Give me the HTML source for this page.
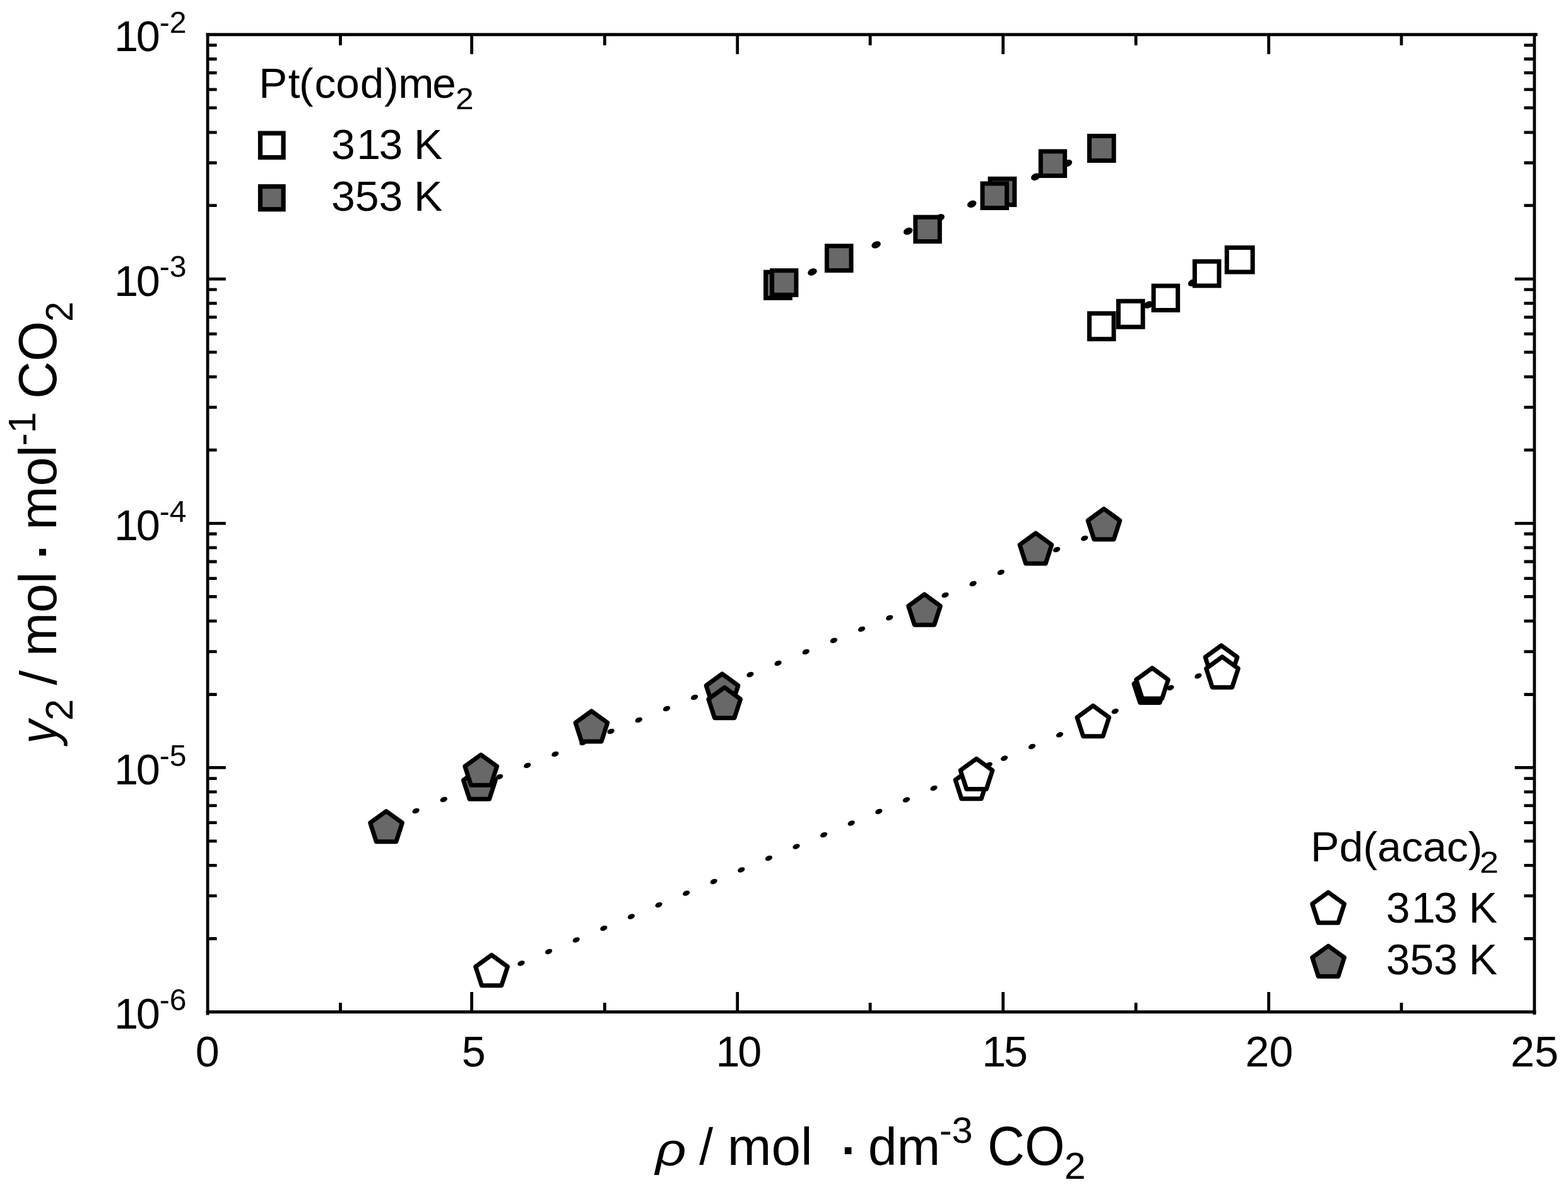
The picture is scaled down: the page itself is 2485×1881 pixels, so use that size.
<!DOCTYPE html>
<html lang="en"><head><meta charset="utf-8"><title>Solubility plot</title>
<style>html,body{margin:0;padding:0;background:#fff;overflow:hidden}svg{display:block}</style></head>
<body>
<svg width="2485" height="1881" viewBox="0 0 2485 1881">
<rect width="2485" height="1881" fill="#fff"/>
<g fill="#000">
<ellipse cx="1236.90" cy="452.52" rx="7.6" ry="5.3" transform="rotate(-23.08 1236.90 452.52)"/>
<ellipse cx="1287.45" cy="430.98" rx="7.6" ry="5.3" transform="rotate(-23.08 1287.45 430.98)"/>
<ellipse cx="1338.00" cy="409.43" rx="7.6" ry="5.3" transform="rotate(-23.08 1338.00 409.43)"/>
<ellipse cx="1388.55" cy="387.89" rx="7.6" ry="5.3" transform="rotate(-23.08 1388.55 387.89)"/>
<ellipse cx="1439.10" cy="366.35" rx="7.6" ry="5.3" transform="rotate(-23.08 1439.10 366.35)"/>
<ellipse cx="1489.65" cy="344.80" rx="7.6" ry="5.3" transform="rotate(-23.08 1489.65 344.80)"/>
<ellipse cx="1540.20" cy="323.26" rx="7.6" ry="5.3" transform="rotate(-23.08 1540.20 323.26)"/>
<ellipse cx="1590.75" cy="301.71" rx="7.6" ry="5.3" transform="rotate(-23.08 1590.75 301.71)"/>
<ellipse cx="1641.30" cy="280.17" rx="7.6" ry="5.3" transform="rotate(-23.08 1641.30 280.17)"/>
<ellipse cx="1691.85" cy="258.62" rx="7.6" ry="5.3" transform="rotate(-23.08 1691.85 258.62)"/>
<ellipse cx="1742.40" cy="237.08" rx="7.6" ry="5.3" transform="rotate(-23.08 1742.40 237.08)"/>
<ellipse cx="1820.00" cy="483.00" rx="7.6" ry="5.3" transform="rotate(-26.57 1820.00 483.00)"/>
<ellipse cx="1890.00" cy="448.00" rx="7.6" ry="5.3" transform="rotate(-26.57 1890.00 448.00)"/>
<ellipse cx="659.10" cy="1284.90" rx="5.9" ry="3.9" transform="rotate(-22.18 659.10 1284.90)"/>
<ellipse cx="703.25" cy="1266.90" rx="5.9" ry="3.9" transform="rotate(-22.18 703.25 1266.90)"/>
<ellipse cx="747.40" cy="1248.90" rx="5.9" ry="3.9" transform="rotate(-22.18 747.40 1248.90)"/>
<ellipse cx="791.55" cy="1230.90" rx="5.9" ry="3.9" transform="rotate(-22.18 791.55 1230.90)"/>
<ellipse cx="835.70" cy="1212.90" rx="5.9" ry="3.9" transform="rotate(-22.18 835.70 1212.90)"/>
<ellipse cx="879.85" cy="1194.90" rx="5.9" ry="3.9" transform="rotate(-22.18 879.85 1194.90)"/>
<ellipse cx="924.00" cy="1176.90" rx="5.9" ry="3.9" transform="rotate(-22.18 924.00 1176.90)"/>
<ellipse cx="968.15" cy="1158.90" rx="5.9" ry="3.9" transform="rotate(-22.18 968.15 1158.90)"/>
<ellipse cx="1012.30" cy="1140.90" rx="5.9" ry="3.9" transform="rotate(-22.18 1012.30 1140.90)"/>
<ellipse cx="1056.45" cy="1122.90" rx="5.9" ry="3.9" transform="rotate(-22.18 1056.45 1122.90)"/>
<ellipse cx="1100.60" cy="1104.90" rx="5.9" ry="3.9" transform="rotate(-22.18 1100.60 1104.90)"/>
<ellipse cx="1144.75" cy="1086.90" rx="5.9" ry="3.9" transform="rotate(-22.18 1144.75 1086.90)"/>
<ellipse cx="1188.90" cy="1068.90" rx="5.9" ry="3.9" transform="rotate(-22.18 1188.90 1068.90)"/>
<ellipse cx="1233.05" cy="1050.90" rx="5.9" ry="3.9" transform="rotate(-22.18 1233.05 1050.90)"/>
<ellipse cx="1277.20" cy="1032.90" rx="5.9" ry="3.9" transform="rotate(-22.18 1277.20 1032.90)"/>
<ellipse cx="1321.35" cy="1014.90" rx="5.9" ry="3.9" transform="rotate(-22.18 1321.35 1014.90)"/>
<ellipse cx="1365.50" cy="996.90" rx="5.9" ry="3.9" transform="rotate(-22.18 1365.50 996.90)"/>
<ellipse cx="1409.65" cy="978.90" rx="5.9" ry="3.9" transform="rotate(-22.18 1409.65 978.90)"/>
<ellipse cx="1453.80" cy="960.90" rx="5.9" ry="3.9" transform="rotate(-22.18 1453.80 960.90)"/>
<ellipse cx="1497.95" cy="942.90" rx="5.9" ry="3.9" transform="rotate(-22.18 1497.95 942.90)"/>
<ellipse cx="1542.10" cy="924.90" rx="5.9" ry="3.9" transform="rotate(-22.18 1542.10 924.90)"/>
<ellipse cx="1586.25" cy="906.90" rx="5.9" ry="3.9" transform="rotate(-22.18 1586.25 906.90)"/>
<ellipse cx="1630.40" cy="888.90" rx="5.9" ry="3.9" transform="rotate(-22.18 1630.40 888.90)"/>
<ellipse cx="1674.55" cy="870.90" rx="5.9" ry="3.9" transform="rotate(-22.18 1674.55 870.90)"/>
<ellipse cx="1718.70" cy="852.90" rx="5.9" ry="3.9" transform="rotate(-22.18 1718.70 852.90)"/>
<ellipse cx="826.00" cy="1526.40" rx="5.9" ry="3.9" transform="rotate(-22.99 826.00 1526.40)"/>
<ellipse cx="869.60" cy="1507.90" rx="5.9" ry="3.9" transform="rotate(-22.99 869.60 1507.90)"/>
<ellipse cx="913.20" cy="1489.40" rx="5.9" ry="3.9" transform="rotate(-22.99 913.20 1489.40)"/>
<ellipse cx="956.80" cy="1470.90" rx="5.9" ry="3.9" transform="rotate(-22.99 956.80 1470.90)"/>
<ellipse cx="1000.40" cy="1452.40" rx="5.9" ry="3.9" transform="rotate(-22.99 1000.40 1452.40)"/>
<ellipse cx="1044.00" cy="1433.90" rx="5.9" ry="3.9" transform="rotate(-22.99 1044.00 1433.90)"/>
<ellipse cx="1087.60" cy="1415.40" rx="5.9" ry="3.9" transform="rotate(-22.99 1087.60 1415.40)"/>
<ellipse cx="1131.20" cy="1396.90" rx="5.9" ry="3.9" transform="rotate(-22.99 1131.20 1396.90)"/>
<ellipse cx="1174.80" cy="1378.40" rx="5.9" ry="3.9" transform="rotate(-22.99 1174.80 1378.40)"/>
<ellipse cx="1218.40" cy="1359.90" rx="5.9" ry="3.9" transform="rotate(-22.99 1218.40 1359.90)"/>
<ellipse cx="1262.00" cy="1341.41" rx="5.9" ry="3.9" transform="rotate(-22.99 1262.00 1341.41)"/>
<ellipse cx="1305.60" cy="1322.91" rx="5.9" ry="3.9" transform="rotate(-22.99 1305.60 1322.91)"/>
<ellipse cx="1349.20" cy="1304.41" rx="5.9" ry="3.9" transform="rotate(-22.99 1349.20 1304.41)"/>
<ellipse cx="1392.80" cy="1285.91" rx="5.9" ry="3.9" transform="rotate(-22.99 1392.80 1285.91)"/>
<ellipse cx="1436.40" cy="1267.41" rx="5.9" ry="3.9" transform="rotate(-22.99 1436.40 1267.41)"/>
<ellipse cx="1480.00" cy="1248.91" rx="5.9" ry="3.9" transform="rotate(-22.99 1480.00 1248.91)"/>
<ellipse cx="1523.60" cy="1230.41" rx="5.9" ry="3.9" transform="rotate(-22.99 1523.60 1230.41)"/>
<ellipse cx="1567.20" cy="1211.91" rx="5.9" ry="3.9" transform="rotate(-22.99 1567.20 1211.91)"/>
<ellipse cx="1591.60" cy="1201.56" rx="5.9" ry="3.9" transform="rotate(-22.99 1591.60 1201.56)"/>
<ellipse cx="1635.50" cy="1182.93" rx="5.9" ry="3.9" transform="rotate(-22.99 1635.50 1182.93)"/>
<ellipse cx="1679.40" cy="1164.30" rx="5.9" ry="3.9" transform="rotate(-22.99 1679.40 1164.30)"/>
<ellipse cx="1723.30" cy="1145.68" rx="5.9" ry="3.9" transform="rotate(-22.99 1723.30 1145.68)"/>
<ellipse cx="1767.20" cy="1127.05" rx="5.9" ry="3.9" transform="rotate(-22.99 1767.20 1127.05)"/>
<ellipse cx="1811.10" cy="1108.42" rx="5.9" ry="3.9" transform="rotate(-22.99 1811.10 1108.42)"/>
<ellipse cx="1855.00" cy="1089.80" rx="5.9" ry="3.9" transform="rotate(-22.99 1855.00 1089.80)"/>
<ellipse cx="1898.90" cy="1071.17" rx="5.9" ry="3.9" transform="rotate(-22.99 1898.90 1071.17)"/>
</g>
<rect x="1213.50" y="431.20" width="38.80" height="41.00" fill="#686868" stroke="#000" stroke-width="7.0"/>
<rect x="1223.60" y="428.70" width="38.30" height="38.60" fill="#686868" stroke="#000" stroke-width="7.0"/>
<rect x="1310.40" y="389.80" width="38.60" height="38.80" fill="#686868" stroke="#000" stroke-width="7.0"/>
<rect x="1450.80" y="344.10" width="38.50" height="38.50" fill="#686868" stroke="#000" stroke-width="7.0"/>
<rect x="1569.10" y="283.30" width="38.80" height="41.30" fill="#686868" stroke="#000" stroke-width="7.0"/>
<rect x="1557.00" y="290.90" width="38.60" height="38.60" fill="#686868" stroke="#000" stroke-width="7.0"/>
<rect x="1649.30" y="239.90" width="38.30" height="38.60" fill="#686868" stroke="#000" stroke-width="7.0"/>
<rect x="1726.50" y="215.50" width="38.70" height="39.00" fill="#686868" stroke="#000" stroke-width="7.0"/>
<rect x="1726.50" y="496.70" width="38.60" height="40.60" fill="#fff" stroke="#000" stroke-width="7.0"/>
<rect x="1772.50" y="477.20" width="38.70" height="40.90" fill="#fff" stroke="#000" stroke-width="7.0"/>
<rect x="1828.20" y="453.00" width="38.50" height="38.50" fill="#fff" stroke="#000" stroke-width="7.0"/>
<rect x="1893.40" y="414.30" width="38.60" height="38.50" fill="#fff" stroke="#000" stroke-width="7.0"/>
<rect x="1944.30" y="392.40" width="40.90" height="38.60" fill="#fff" stroke="#000" stroke-width="7.0"/>
<polygon points="612.10,1285.50 637.49,1303.95 627.79,1333.80 596.41,1333.80 586.71,1303.95" fill="#686868" stroke="#000" stroke-width="7.0" stroke-linejoin="round"/>
<polygon points="759.80,1218.00 785.19,1236.45 775.49,1266.30 744.11,1266.30 734.41,1236.45" fill="#686868" stroke="#000" stroke-width="7.0" stroke-linejoin="round"/>
<polygon points="762.20,1196.00 787.59,1214.45 777.89,1244.30 746.51,1244.30 736.81,1214.45" fill="#686868" stroke="#000" stroke-width="7.0" stroke-linejoin="round"/>
<polygon points="937.40,1126.80 962.79,1145.25 953.09,1175.10 921.71,1175.10 912.01,1145.25" fill="#686868" stroke="#000" stroke-width="7.0" stroke-linejoin="round"/>
<polygon points="1144.50,1067.90 1169.89,1086.35 1160.19,1116.20 1128.81,1116.20 1119.11,1086.35" fill="#686868" stroke="#000" stroke-width="7.0" stroke-linejoin="round"/>
<polygon points="1148.20,1089.40 1173.59,1107.85 1163.89,1137.70 1132.51,1137.70 1122.81,1107.85" fill="#686868" stroke="#000" stroke-width="7.0" stroke-linejoin="round"/>
<polygon points="1465.00,941.90 1490.39,960.35 1480.69,990.20 1449.31,990.20 1439.61,960.35" fill="#686868" stroke="#000" stroke-width="7.0" stroke-linejoin="round"/>
<polygon points="1641.40,844.80 1666.79,863.25 1657.09,893.10 1625.71,893.10 1616.01,863.25" fill="#686868" stroke="#000" stroke-width="7.0" stroke-linejoin="round"/>
<polygon points="1749.50,806.40 1774.89,824.85 1765.19,854.70 1733.81,854.70 1724.11,824.85" fill="#686868" stroke="#000" stroke-width="7.0" stroke-linejoin="round"/>
<polygon points="779.10,1513.40 804.49,1531.85 794.79,1561.70 763.41,1561.70 753.71,1531.85" fill="#fff" stroke="#000" stroke-width="7.0" stroke-linejoin="round"/>
<polygon points="1539.50,1217.50 1564.89,1235.95 1555.19,1265.80 1523.81,1265.80 1514.11,1235.95" fill="#fff" stroke="#000" stroke-width="7.0" stroke-linejoin="round"/>
<polygon points="1547.50,1202.30 1572.89,1220.75 1563.19,1250.60 1531.81,1250.60 1522.11,1220.75" fill="#fff" stroke="#000" stroke-width="7.0" stroke-linejoin="round"/>
<polygon points="1732.30,1118.40 1757.69,1136.85 1747.99,1166.70 1716.61,1166.70 1706.91,1136.85" fill="#fff" stroke="#000" stroke-width="7.0" stroke-linejoin="round"/>
<polygon points="1822.40,1065.20 1847.79,1083.65 1838.09,1113.50 1806.71,1113.50 1797.01,1083.65" fill="#fff" stroke="#000" stroke-width="7.0" stroke-linejoin="round"/>
<polygon points="1826.00,1058.60 1851.39,1077.05 1841.69,1106.90 1810.31,1106.90 1800.61,1077.05" fill="#fff" stroke="#000" stroke-width="7.0" stroke-linejoin="round"/>
<polygon points="1935.50,1022.90 1960.89,1041.35 1951.19,1071.20 1919.81,1071.20 1910.11,1041.35" fill="#fff" stroke="#000" stroke-width="7.0" stroke-linejoin="round"/>
<polygon points="1937.00,1040.90 1962.39,1059.35 1952.69,1089.20 1921.31,1089.20 1911.61,1059.35" fill="#fff" stroke="#000" stroke-width="7.0" stroke-linejoin="round"/>
<g stroke="#000" stroke-width="4.8" fill="none">
<path d="M539.5 55.0V71.8 M539.5 1603.6V1589.1"/>
<path d="M747.6 55.0V85.8 M747.6 1603.6V1572.1"/>
<path d="M958.3 55.0V71.8 M958.3 1603.6V1589.1"/>
<path d="M1168.7 55.0V85.8 M1168.7 1603.6V1572.1"/>
<path d="M1379.1 55.0V71.8 M1379.1 1603.6V1589.1"/>
<path d="M1589.7 55.0V85.8 M1589.7 1603.6V1572.1"/>
<path d="M1800.2 55.0V71.8 M1800.2 1603.6V1589.1"/>
<path d="M2010.7 55.0V85.8 M2010.7 1603.6V1572.1"/>
<path d="M2221.0 55.0V71.8 M2221.0 1603.6V1589.1"/>
<path d="M329.1 71.60H343.6 M2432.0 71.60H2415.4"/>
<path d="M329.1 93.50H343.6 M2432.0 93.50H2415.4"/>
<path d="M329.1 115.30H343.6 M2432.0 115.30H2415.4"/>
<path d="M329.1 141.90H343.6 M2432.0 141.90H2415.4"/>
<path d="M329.1 170.90H343.6 M2432.0 170.90H2415.4"/>
<path d="M329.1 209.80H343.6 M2432.0 209.80H2415.4"/>
<path d="M329.1 258.00H343.6 M2432.0 258.00H2415.4"/>
<path d="M329.1 325.60H343.6 M2432.0 325.60H2415.4"/>
<path d="M329.1 458.90H343.6 M2432.0 458.90H2415.4"/>
<path d="M329.1 480.70H343.6 M2432.0 480.70H2415.4"/>
<path d="M329.1 502.70H343.6 M2432.0 502.70H2415.4"/>
<path d="M329.1 529.20H343.6 M2432.0 529.20H2415.4"/>
<path d="M329.1 558.20H343.6 M2432.0 558.20H2415.4"/>
<path d="M329.1 597.10H343.6 M2432.0 597.10H2415.4"/>
<path d="M329.1 645.40H343.6 M2432.0 645.40H2415.4"/>
<path d="M329.1 713.20H343.6 M2432.0 713.20H2415.4"/>
<path d="M329.1 846.00H343.6 M2432.0 846.00H2415.4"/>
<path d="M329.1 867.90H343.6 M2432.0 867.90H2415.4"/>
<path d="M329.1 890.00H343.6 M2432.0 890.00H2415.4"/>
<path d="M329.1 916.60H343.6 M2432.0 916.60H2415.4"/>
<path d="M329.1 945.50H343.6 M2432.0 945.50H2415.4"/>
<path d="M329.1 984.20H343.6 M2432.0 984.20H2415.4"/>
<path d="M329.1 1032.70H343.6 M2432.0 1032.70H2415.4"/>
<path d="M329.1 1100.50H343.6 M2432.0 1100.50H2415.4"/>
<path d="M329.1 1233.60H343.6 M2432.0 1233.60H2415.4"/>
<path d="M329.1 1254.80H343.6 M2432.0 1254.80H2415.4"/>
<path d="M329.1 1276.60H343.6 M2432.0 1276.60H2415.4"/>
<path d="M329.1 1303.60H343.6 M2432.0 1303.60H2415.4"/>
<path d="M329.1 1332.90H343.6 M2432.0 1332.90H2415.4"/>
<path d="M329.1 1371.40H343.6 M2432.0 1371.40H2415.4"/>
<path d="M329.1 1419.70H343.6 M2432.0 1419.70H2415.4"/>
<path d="M329.1 1487.50H343.6 M2432.0 1487.50H2415.4"/>
<path d="M329.1 442.20H357.8 M2432.0 442.20H2400.7"/>
<path d="M329.1 829.40H357.8 M2432.0 829.40H2400.7"/>
<path d="M329.1 1216.40H357.8 M2432.0 1216.40H2400.7"/>
</g>
<g fill="#000">
<rect x="326.7" y="52.5" width="4.8" height="1556.0"/>
<rect x="2429.4" y="52.5" width="4.8" height="1555.4"/>
<rect x="326.7" y="52.3" width="2110.0" height="5.0"/>
<rect x="326.7" y="1601.1" width="2107.7" height="5.0"/>
</g>
<g font-family="'Liberation Sans', Arial, Helvetica, sans-serif" font-size="100" fill="#000">
<text transform="matrix(0.6848 0 0 0.6940 177.77 81.41)" xml:space="preserve"><tspan dx="4.6">1</tspan><tspan dx="-4.6">0</tspan></text>
<text transform="matrix(0.4818 0 0 0.4789 252.63 52.20)" xml:space="preserve">-2</text>
<text transform="matrix(0.6848 0 0 0.6940 177.77 468.61)" xml:space="preserve"><tspan dx="4.6">1</tspan><tspan dx="-4.6">0</tspan></text>
<text transform="matrix(0.4818 0 0 0.4789 252.63 439.40)" xml:space="preserve">-3</text>
<text transform="matrix(0.6848 0 0 0.6940 177.77 855.81)" xml:space="preserve"><tspan dx="4.6">1</tspan><tspan dx="-4.6">0</tspan></text>
<text transform="matrix(0.4818 0 0 0.4789 252.63 826.60)" xml:space="preserve">-4</text>
<text transform="matrix(0.6848 0 0 0.6940 177.77 1242.81)" xml:space="preserve"><tspan dx="4.6">1</tspan><tspan dx="-4.6">0</tspan></text>
<text transform="matrix(0.4818 0 0 0.4789 252.63 1213.60)" xml:space="preserve">-5</text>
<text transform="matrix(0.6848 0 0 0.6940 177.77 1630.01)" xml:space="preserve"><tspan dx="4.6">1</tspan><tspan dx="-4.6">0</tspan></text>
<text transform="matrix(0.4818 0 0 0.4789 252.63 1600.80)" xml:space="preserve">-6</text>
<text transform="matrix(0.6827 0 0 0.6883 309.87 1690.21)" xml:space="preserve">0</text>
<text transform="matrix(0.6827 0 0 0.6883 731.74 1690.21)" xml:space="preserve">5</text>
<text transform="matrix(0.6827 0 0 0.6883 1131.28 1690.21)" xml:space="preserve"><tspan dx="4.6">1</tspan><tspan dx="-4.6">0</tspan></text>
<text transform="matrix(0.6827 0 0 0.6883 1553.05 1690.21)" xml:space="preserve"><tspan dx="4.6">1</tspan><tspan dx="-4.6">5</tspan></text>
<text transform="matrix(0.6827 0 0 0.6883 1973.48 1690.21)" xml:space="preserve">20</text>
<text transform="matrix(0.6827 0 0 0.6883 2394.05 1690.21)" xml:space="preserve">25</text>
<text transform="matrix(0.6745 0 0 0.6681 410.24 154.54)" xml:space="preserve">P<tspan dx="2.22">t</tspan><tspan dx="-2.22">(</tspan><tspan dx="2.97">c</tspan>o<tspan dx="1.48">d</tspan><tspan dx="1.48">)</tspan><tspan dx="-0.74">m</tspan><tspan dx="-2.97">e</tspan></text>
<text transform="matrix(0.5165 0 0 0.4789 722.12 173.30)" xml:space="preserve">2</text>
<text transform="matrix(0.6794 0 0 0.6714 525.05 251.83)" xml:space="preserve">3<tspan dx="3.68">1</tspan><tspan dx="-3.68">3</tspan> <tspan dx="-1.77">K</tspan></text>
<text transform="matrix(0.6794 0 0 0.6728 525.05 334.13)" xml:space="preserve">353 <tspan dx="-1.77">K</tspan></text>
<text transform="matrix(0.6810 0 0 0.6681 2077.08 1364.54)" xml:space="preserve">Pd(acac)</text>
<text transform="matrix(0.5407 0 0 0.4789 2344.90 1383.30)" xml:space="preserve">2</text>
<text transform="matrix(0.6794 0 0 0.6770 2196.75 1462.22)" xml:space="preserve">3<tspan dx="3.68">1</tspan><tspan dx="-3.68">3</tspan> <tspan dx="-1.77">K</tspan></text>
<text transform="matrix(0.6794 0 0 0.6770 2196.75 1544.42)" xml:space="preserve">353 <tspan dx="-1.77">K</tspan></text>
<text transform="matrix(0.8529 0 0 0.7383 1038.63 1846.88)" font-style="italic" xml:space="preserve">ρ</text>
<text transform="matrix(0.7856 0 0 0.8245 1108.30 1844.98)" xml:space="preserve">/</text>
<text transform="matrix(0.8359 0 0 0.8327 1152.86 1845.57)" xml:space="preserve">mol</text>
<text transform="matrix(1.1179 0 0 1.0140 1325.46 1851.35)" xml:space="preserve">·</text>
<text transform="matrix(0.8242 0 0 0.8327 1375.70 1845.57)" xml:space="preserve">dm</text>
<text transform="matrix(0.5937 0 0 0.5724 1488.73 1811.03)" xml:space="preserve">-3</text>
<text transform="matrix(0.8157 0 0 0.8792 1565.12 1845.52)" xml:space="preserve">CO</text>
<text transform="matrix(0.6110 0 0 0.5849 1686.75 1867.60)" xml:space="preserve">2</text>
<text transform="translate(89.5 1183) rotate(-90) matrix(0.7471 0 0 0.8313 4.51 0.65)" font-style="italic" xml:space="preserve">y</text>
<text transform="translate(89.5 1183) rotate(-90) matrix(0.6176 0 0 0.6036 41.11 25.10)" xml:space="preserve">2</text>
<text transform="translate(89.5 1183) rotate(-90) matrix(0.8432 0 0 0.8245 97.20 -0.62)" xml:space="preserve">/</text>
<text transform="translate(89.5 1183) rotate(-90) matrix(0.8298 0 0 0.8313 142.90 -0.13)" xml:space="preserve">mol</text>
<text transform="translate(89.5 1183) rotate(-90) matrix(1.1077 0 0 1.0140 289.58 5.75)" xml:space="preserve">·</text>
<text transform="translate(89.5 1183) rotate(-90) matrix(0.8318 0 0 0.8313 343.29 -0.13)" xml:space="preserve">mol</text>
<text transform="translate(89.5 1183) rotate(-90) matrix(0.6051 0 0 0.6051 476.38 -33.60)" xml:space="preserve">-1</text>
<text transform="translate(89.5 1183) rotate(-90) matrix(0.8228 0 0 0.8580 550.89 -0.16)" xml:space="preserve">CO</text>
<text transform="translate(89.5 1183) rotate(-90) matrix(0.5758 0 0 0.6036 672.92 25.10)" xml:space="preserve">2</text>
</g>
<rect x="412.50" y="211.10" width="36.60" height="38.30" fill="#fff" stroke="#000" stroke-width="7.2"/>
<rect x="412.50" y="295.50" width="36.60" height="36.20" fill="#686868" stroke="#000" stroke-width="7.2"/>
<polygon points="2105.10,1414.00 2130.49,1432.45 2120.79,1462.30 2089.41,1462.30 2079.71,1432.45" fill="#fff" stroke="#000" stroke-width="7.0" stroke-linejoin="round"/>
<polygon points="2105.10,1499.00 2130.49,1517.45 2120.79,1547.30 2089.41,1547.30 2079.71,1517.45" fill="#686868" stroke="#000" stroke-width="7.0" stroke-linejoin="round"/>
</svg>
</body></html>
